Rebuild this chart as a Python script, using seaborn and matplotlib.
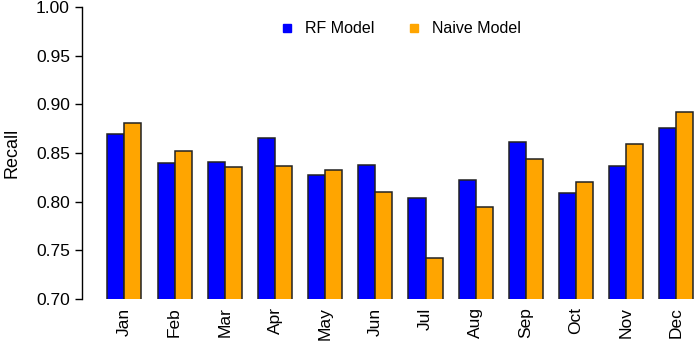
import seaborn as sns
import matplotlib.pyplot as plt
import pandas as pd
from matplotlib.lines import Line2D

sns.set_style("ticks")
plt.rcParams['font.family'] = ['Liberation Sans', 'DejaVu Sans']
plt.rcParams['text.color'] = 'black'
plt.rcParams['axes.labelcolor'] = 'black'
plt.rcParams['xtick.color'] = 'black'
plt.rcParams['ytick.color'] = 'black'

months = ["Jan", "Feb", "Mar", "Apr", "May", "Jun", "Jul", "Aug", "Sep", "Oct", "Nov", "Dec"]
rf_recall = [0.870, 0.840, 0.841, 0.865, 0.827, 0.838, 0.804, 0.822, 0.861, 0.809, 0.837, 0.876]
naive_recall = [0.881, 0.852, 0.836, 0.837, 0.833, 0.810, 0.742, 0.795, 0.844, 0.820, 0.859, 0.892]
models = ["RF Model", "Naive Model"]
colors = ["#0000FF", "#FFA500"]

df = pd.DataFrame({
    "month": months * 2,
    "recall": rf_recall + naive_recall,
    "model": [models[0]] * 12 + [models[1]] * 12,
})

fig = plt.figure(figsize=(6.99, 3.45), dpi=100)
ax = fig.add_axes([0.117, 0.133, 0.883, 0.847])
sns.barplot(data=df, x="month", y="recall", hue="model", palette=colors, saturation=1,
            width=0.68, edgecolor="#222222", linewidth=1.1, ax=ax, legend=False)

ax.set_ylim(0.70, 1.00)
ax.set_xlim(-0.85, 11.45)
ax.set_yticks([0.70, 0.75, 0.80, 0.85, 0.90, 0.95, 1.00])
ax.set_yticklabels([f"{v:.2f}" for v in ax.get_yticks()], fontsize=12.5)
ax.tick_params(axis="x", length=0, labelrotation=90, labelsize=12.5, pad=6)
ax.tick_params(axis="y", length=5, width=1, color="black")
ax.set_xlabel("")
ax.set_ylabel("Recall", fontsize=13, labelpad=11)
for s in ["top", "right", "bottom"]:
    ax.spines[s].set_visible(False)
ax.spines["left"].set_color("black")
ax.spines["left"].set_linewidth(1)

handles = [Line2D([], [], marker="s", linestyle="", markersize=6, color=c) for c in colors]
ax.legend(handles, models, loc="upper center", ncol=2, frameon=False, fontsize=11.5,
          bbox_to_anchor=(0.509, 1.0), handletextpad=0.1, columnspacing=1.5)

fig.savefig("out.png", dpi=100)
